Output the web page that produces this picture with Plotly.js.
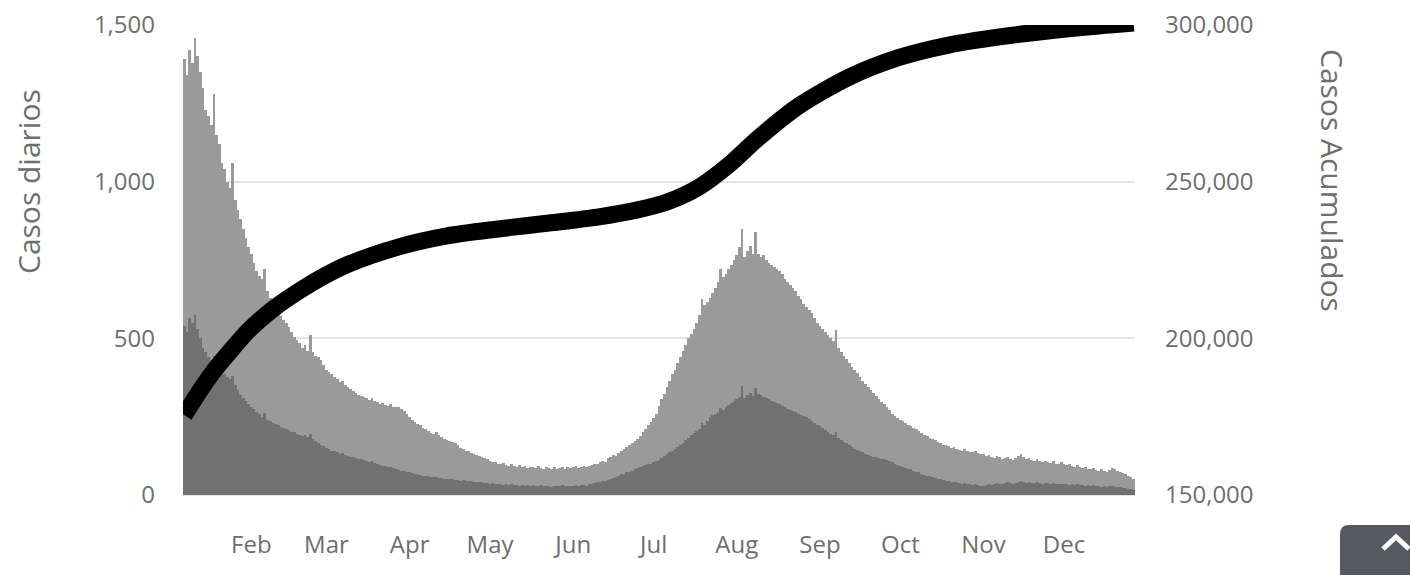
<!DOCTYPE html>
<html>
<head>
<meta charset="utf-8">
<script src="https://cdn.plot.ly/plotly-3.0.1.min.js"></script>
<style>
  html, body { margin: 0; padding: 0; background: #ffffff; }
  #chart { width: 1410px; height: 575px; }
</style>
</head>
<body>
<div id="chart"></div>
<script>
// ---- data ----
const startDate = '2022-01-07';

// daily cases, total (light bars), one value per day from Jan 7 to Dec 27
const casosTotal = [
  // Jan 7-31
  1390,1340,1420,1380,1460,1400,1350,1300,1230,1210,1180,1280,1150,1120,1060,1040,1000,980,1060,940,910,880,850,820,790,
  // Feb
  770,740,715,700,690,720,650,630,610,600,585,570,560,550,535,520,505,495,485,470,480,460,510,455,445,440,430,415,
  // Mar
  400,392,385,378,370,362,365,350,345,338,332,326,320,315,312,308,304,310,300,296,292,295,288,285,290,282,280,282,275,268,260,
  // Apr
  250,240,232,228,222,215,210,205,198,195,200,190,185,180,176,172,168,165,158,150,146,142,140,135,132,128,125,122,118,115,
  // May
  110,106,104,100,98,102,96,94,98,92,90,95,88,92,86,90,88,85,92,86,84,90,85,82,88,84,86,90,84,88,86,
  // Jun
  88,92,86,90,94,88,92,96,100,98,104,110,106,118,122,128,125,135,140,146,152,160,165,172,180,188,200,210,222,232,
  // Jul
  245,260,285,305,322,345,365,385,400,420,440,460,480,500,515,530,550,575,625,605,615,630,645,660,680,720,695,705,720,735,750,
  // Aug
  765,790,850,760,780,795,770,840,770,760,765,750,740,735,728,720,715,705,690,680,670,662,650,635,625,610,600,590,580,565,550,
  // Sep
  540,530,520,510,500,490,528,470,455,445,435,420,410,400,390,378,365,355,345,335,325,315,305,298,290,280,270,260,252,245,
  // Oct
  240,235,230,225,220,215,210,205,198,192,188,182,178,175,170,165,160,158,155,150,152,148,145,142,146,140,138,136,140,135,132,
  // Nov
  130,125,128,122,118,125,120,115,118,122,115,112,118,125,130,120,115,118,112,110,115,108,105,110,106,102,108,100,98,104,
  // Dec 1-27
  98,95,100,92,90,96,88,85,90,84,82,86,80,78,84,76,74,80,86,82,78,72,70,66,62,58,52
];

// daily cases, subset (dark bars)
const casosSubgrupo = [
  // Jan 7-31
  540,520,565,550,575,530,500,470,455,440,430,445,410,400,390,385,378,370,380,350,335,320,310,300,290,
  // Feb
  282,275,265,258,250,262,240,235,230,226,222,218,214,210,206,202,200,196,192,188,190,185,195,180,172,165,160,155,
  // Mar
  150,146,142,140,136,132,134,128,125,122,120,118,116,114,112,108,105,110,102,98,96,94,92,90,88,85,82,80,78,76,74,
  // Apr
  72,70,68,66,64,62,60,60,58,56,58,55,54,52,52,50,50,48,48,46,48,46,45,44,42,42,40,40,38,38,
  // May
  36,38,35,34,36,33,35,32,34,31,33,30,32,30,31,29,32,30,28,31,29,30,28,27,30,28,29,31,28,30,29,
  // Jun
  30,32,29,31,33,30,34,36,38,40,42,44,46,48,52,55,58,62,66,68,72,75,78,82,85,88,92,95,98,100,
  // Jul
  104,108,112,118,124,130,136,142,148,154,160,166,174,182,190,198,205,212,230,225,235,248,255,260,265,278,272,282,288,295,300,
  // Aug
  305,312,348,310,318,325,315,340,322,318,314,310,305,300,298,294,290,285,280,276,272,268,264,260,256,252,248,242,236,230,225,
  // Sep
  220,215,208,202,196,190,200,182,176,170,165,158,153,148,144,140,136,132,128,125,122,120,118,116,114,112,108,104,100,96,
  // Oct
  93,90,87,84,82,78,75,72,68,65,62,60,58,55,52,50,48,46,44,42,40,40,38,36,38,35,34,33,35,32,30,
  // Nov
  30,32,34,31,35,38,36,34,37,40,38,36,39,42,44,40,38,41,39,37,40,38,36,39,37,35,38,34,36,35,
  // Dec 1-27
  34,36,33,35,32,34,31,33,30,32,29,31,28,30,27,29,26,28,30,27,25,24,22,21,20,18,16
];

// cumulative cases, read at points along the thick black line
const fechasAcum = ['2022-01-07','2022-01-13','2022-01-18','2022-01-25','2022-01-31','2022-02-09','2022-02-19',
  '2022-02-28','2022-03-09','2022-03-28','2022-04-15','2022-05-04','2022-05-23','2022-06-10','2022-06-25',
  '2022-07-06','2022-07-18','2022-07-29','2022-08-09','2022-08-24','2022-09-12','2022-09-30','2022-10-19',
  '2022-11-07','2022-11-25','2022-12-14','2022-12-27'];
const casosAcum = [175500,183500,189600,196800,202600,209300,215200,219800,223600,229200,232700,234900,236800,
  238700,241000,243500,248300,255300,263900,274100,283400,289500,293600,296200,298100,299700,300600];

const yLeftTicks = [0, 500, 1000, 1500];
const yRightTicks = [150000, 200000, 250000, 300000];

// ---- build day dates for the bars ----
function dayDates(start, n) {
  const out = [];
  const d0 = new Date(start + 'T00:00:00Z');
  for (let i = 0; i < n; i++) {
    const d = new Date(d0.getTime() + i * 86400000);
    out.push(d.toISOString().slice(0, 10));
  }
  return out;
}
const fechas = dayDates(startDate, casosTotal.length);

const fontFam = '"Open Sans", "Noto Sans", sans-serif';
const textColor = '#6e6e6e';

const traces = [
  {
    type: 'bar', x: fechas, y: casosTotal, name: 'Casos diarios',
    marker: { color: '#9a9a9a', line: { width: 0 } },
    xaxis: 'x', yaxis: 'y', hoverinfo: 'skip'
  },
  {
    type: 'bar', x: fechas, y: casosSubgrupo, name: 'Subgrupo',
    marker: { color: '#717171', line: { width: 0 } },
    xaxis: 'x', yaxis: 'y', hoverinfo: 'skip'
  },
  {
    type: 'scatter', mode: 'lines', x: fechasAcum, y: casosAcum, name: 'Casos Acumulados',
    line: { color: '#000000', width: 17, shape: 'spline', smoothing: 0.8 },
    xaxis: 'x', yaxis: 'y2', hoverinfo: 'skip'
  }
];

// pixel -> paper helpers for the annotations and the scroll-to-top button
const L = 183, R = 1135, T = 25, B = 495;
const px = v => (v - L) / (R - L);
const py = v => (B - v) / (B - T);
const r = 9;
const btnPath = 'M ' + px(1340) + ' ' + py(585) +
  ' L ' + px(1340) + ' ' + py(525 + r) +
  ' Q ' + px(1340) + ' ' + py(525) + ' ' + px(1340 + r) + ' ' + py(525) +
  ' L ' + px(1420) + ' ' + py(525) +
  ' L ' + px(1420) + ' ' + py(585) + ' Z';
const chevPath = 'M ' + px(1383) + ' ' + py(549) + ' L ' + px(1396) + ' ' + py(537) + ' L ' + px(1409) + ' ' + py(549);

const layout = {
  width: 1410, height: 575,
  margin: { l: L, r: 1410 - R, t: T, b: 575 - B, pad: 0 },
  paper_bgcolor: '#ffffff', plot_bgcolor: '#ffffff',
  showlegend: false,
  barmode: 'overlay', bargap: 0,
  font: { family: fontFam, color: textColor, size: 24 },
  xaxis: {
    type: 'date',
    range: ['2022-01-06 12:00', '2022-12-27 12:00'],
    tick0: '2022-02-01', dtick: 'M1', tickformat: '%b',
    showgrid: false, zeroline: false, showline: false,
    ticks: '', ticklabelstandoff: 33,
    tickfont: { family: fontFam, size: 24, color: textColor },
    fixedrange: true
  },
  yaxis: {
    range: [0, 1500], tickvals: yLeftTicks, tickformat: ',',
    showgrid: true, gridcolor: '#e4e4e4', gridwidth: 2,
    zeroline: true, zerolinecolor: '#e4e4e4', zerolinewidth: 2,
    showline: false, ticks: '', ticklabelstandoff: 27,
    tickfont: { family: fontFam, size: 24, color: textColor },
    fixedrange: true
  },
  yaxis2: {
    overlaying: 'y', side: 'right',
    range: [150000, 300000], tickvals: yRightTicks, tickformat: ',',
    showgrid: false, zeroline: false, showline: false, ticks: '', ticklabelstandoff: 29,
    tickfont: { family: fontFam, size: 24, color: textColor },
    fixedrange: true
  },
  annotations: [
    { text: 'Casos diarios', xref: 'paper', yref: 'paper', x: px(28), y: py(182),
      xanchor: 'center', yanchor: 'middle', textangle: -90, showarrow: false,
      font: { family: fontFam, size: 30, color: textColor } },
    { text: 'Casos Acumulados', xref: 'paper', yref: 'paper', x: px(1333), y: py(180),
      xanchor: 'center', yanchor: 'middle', textangle: 90, showarrow: false,
      font: { family: fontFam, size: 30, color: textColor } }
  ],
  shapes: [
    { type: 'path', xref: 'paper', yref: 'paper', path: btnPath, fillcolor: '#575861', line: { width: 0 }, layer: 'above' },
    { type: 'path', xref: 'paper', yref: 'paper', path: chevPath, line: { color: '#ffffff', width: 5 }, layer: 'above' }
  ]
};

Plotly.newPlot('chart', traces, layout, { staticPlot: true, displayModeBar: false });
</script>
</body>
</html>
